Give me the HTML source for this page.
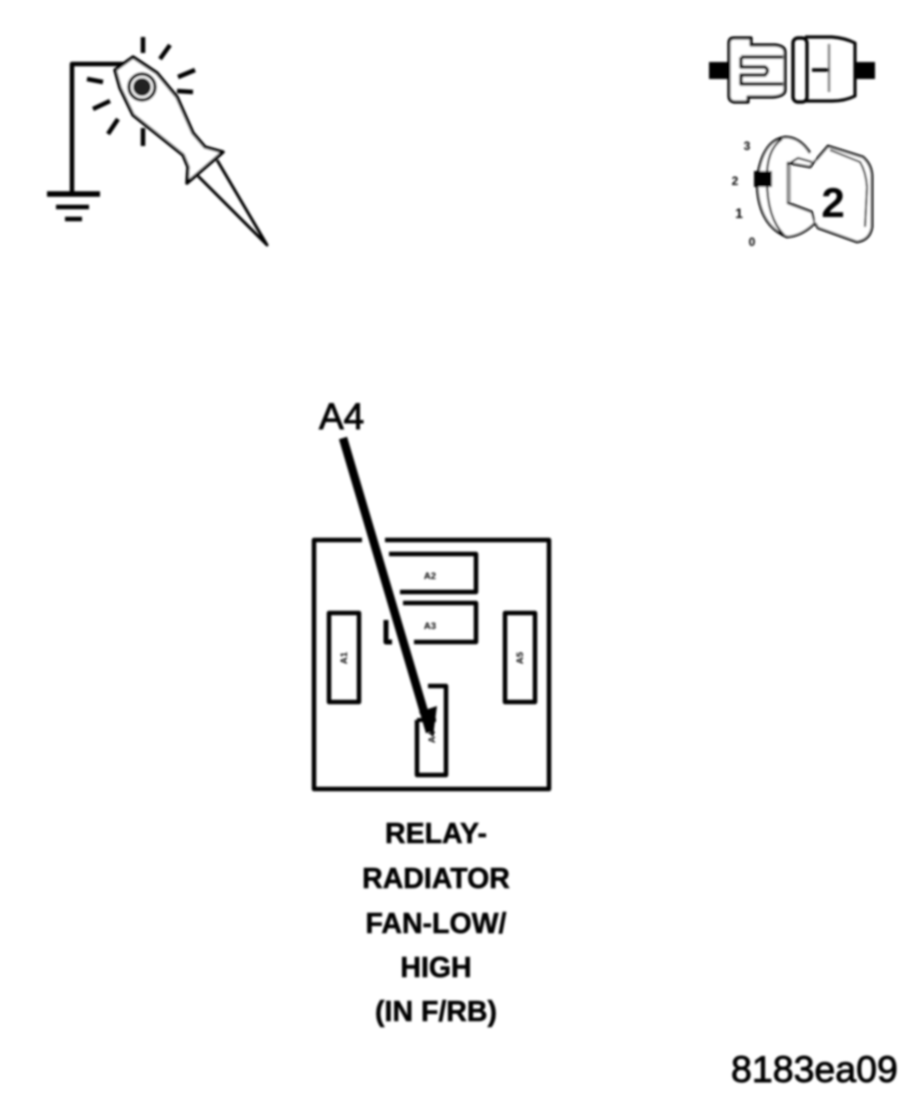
<!DOCTYPE html>
<html>
<head>
<meta charset="utf-8">
<style>
html,body{margin:0;padding:0;background:#fff;width:917px;height:1100px;overflow:hidden}
svg{display:block}
text{font-family:"Liberation Sans",sans-serif;fill:#000}
.b{font-weight:bold;font-size:28.5px;text-anchor:middle;stroke:#000;stroke-width:.5px}
.m{stroke:#000;stroke-width:.9px}
</style>
</head>
<body>
<svg width="917" height="1100" viewBox="0 0 917 1100" xmlns="http://www.w3.org/2000/svg">
<defs><filter id="s" x="-5%" y="-5%" width="110%" height="110%"><feGaussianBlur stdDeviation="1"/></filter></defs>
<g filter="url(#s)" fill="none" stroke="#000" stroke-linejoin="round">
<!-- ground / probe -->
<path d="M125 64H72V194" stroke-width="4.5"/>
<path d="M47 194H100" stroke-width="5.5"/>
<path d="M56 207H89" stroke-width="4.5"/>
<path d="M65 219H82" stroke-width="4.5"/>
<path d="M133 57L115 70L120 88L133 115L183 155L188 167L187 183L223 152L205 147L193 133L177 97L157 73Z" stroke-width="3.5" fill="#fff"/>
<path d="M198 176L267 245L217 160" stroke-width="3"/>
<circle cx="142" cy="87" r="13" stroke-width="3.5"/>
<circle cx="142" cy="87" r="9" fill="#222" stroke="none"/>
<g stroke-width="4.5">
<path d="M143 37V53M170 45L160 59M195 70L178 77M193 92L177 91M87 79L103 82M110 101L93 109M118 119L108 134M143 128V146"/>
</g>
<!-- connector -->
<rect x="709" y="62" width="21" height="17" fill="#000" stroke="none"/>
<rect x="856" y="62" width="19" height="17" fill="#000" stroke="none"/>
<path d="M734 38Q729 38 729 43V96Q729 101 734 102H748V97H773Q785 96 785 90V52Q785 46 775 45H751V38Z" stroke-width="3.2" fill="#fff"/>
<path d="M741 57H783M741 57V67H765Q770 70 765 75H741V84H783" stroke-width="3.4"/>
<rect x="793" y="38" width="14" height="64" rx="5" stroke-width="3.4"/>
<path d="M805 37H832Q845 38 855 43V96Q845 101 832 101H805" stroke-width="3.2"/>
<path d="M829 44V92" stroke="#888" stroke-width="2.5"/>
<path d="M812 70H829" stroke-width="3.4"/>
<!-- key -->
<path d="M810 153Q800 137 785 137Q762 140 757 180Q757 225 787 237Q802 236 815 223L812 212L788 203V163L810 167L816 160" stroke-width="2.6" fill="#fff"/>
<path d="M782 139Q766 150 767 180Q767 218 784 235" stroke-width="2.2"/>
<path d="M790 163L798 158L812 162" stroke-width="2"/>
<path d="M816 160L828 146L863 157Q872 165 872 177V227Q870 240 857 242L818 228L815 223" stroke-width="2.6" fill="#fff"/>
<path d="M830 150L860 162Q866 172 867 187L865 227" stroke-width="2"/>
<path d="M789 165V202" stroke="#999" stroke-width="3.5"/>
<rect x="754" y="171" width="18" height="16" fill="#000" stroke="none"/>
<!-- relay -->
<path d="M362 540H314V789H549V540H385" stroke-width="4.5"/>
<path d="M389 554H476V592H400" stroke-width="4.5"/>
<path d="M403 603H476V642H414" stroke-width="4.5"/>
<path d="M386 620V642H392" stroke-width="5"/>
<rect x="329" y="613" width="30" height="89" stroke-width="4.5"/>
<rect x="505" y="613" width="30" height="89" stroke-width="4.5"/>
<path d="M428 686H446V775H417V720" stroke-width="4.5"/>
<path d="M417 720H436" stroke-width="4"/>
<path d="M343 438L430 732" stroke="#000" stroke-width="8.5"/>
<path d="M419 712L437 706L433 737Z" fill="#000" stroke="none"/>
</g>
<g filter="url(#s)">
<text x="747" y="150" font-size="12" font-weight="bold" text-anchor="middle">3</text>
<text x="735" y="185" font-size="12" font-weight="bold" text-anchor="middle">2</text>
<text x="739" y="218" font-size="14" font-weight="bold" text-anchor="middle">1</text>
<text x="752" y="246" font-size="12" font-weight="bold" text-anchor="middle">0</text>
<text x="833" y="217" font-size="42" font-weight="bold" text-anchor="middle">2</text>
<text x="430" y="579" font-size="9.5" font-weight="bold" text-anchor="middle">A2</text>
<text x="430" y="629" font-size="9.5" font-weight="bold" text-anchor="middle">A3</text>
<text transform="translate(347,658) rotate(-90)" font-size="9.5" font-weight="bold" text-anchor="middle">A1</text>
<text transform="translate(523,658) rotate(-90)" font-size="9.5" font-weight="bold" text-anchor="middle">A5</text>
<text transform="translate(435,737) rotate(-90)" font-size="9.5" font-weight="bold" text-anchor="middle">A4</text>
<text class="m" x="319" y="429" font-size="37">A4</text>
<text class="b" x="436" y="843">RELAY-</text>
<text class="b" x="436" y="888">RADIATOR</text>
<text class="b" x="436" y="933">FAN-LOW/</text>
<text class="b" x="436" y="977">HIGH</text>
<text class="b" x="436" y="1021">(IN F/RB)</text>
<text class="m" x="731" y="1082" font-size="37.5">8183ea09</text>
</g>
</svg>
</body>
</html>
